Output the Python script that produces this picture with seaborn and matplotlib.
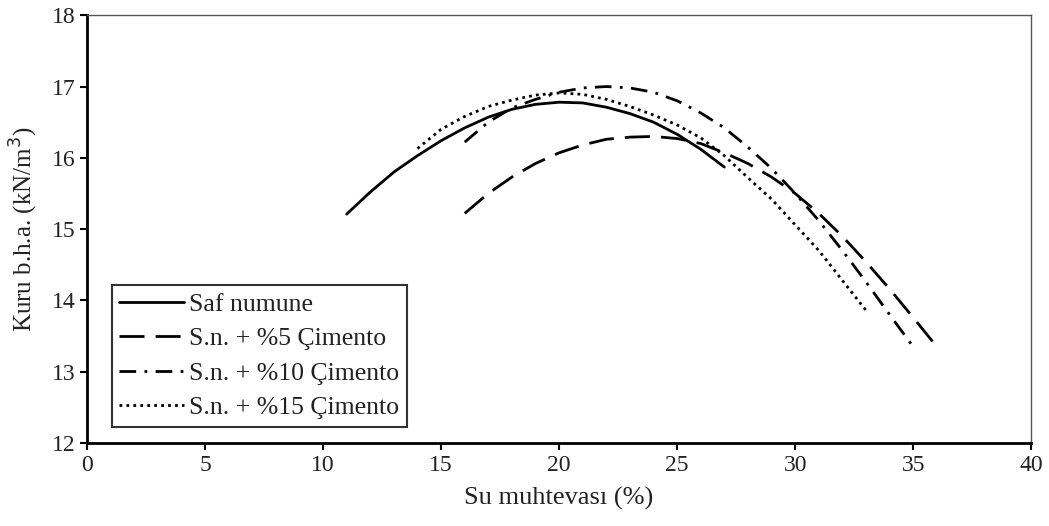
import seaborn as sns
import matplotlib.pyplot as plt
import pandas as pd

# values
saf_x = [11, 12, 13, 14, 15, 16, 17, 18, 19, 20, 21, 22, 23, 24, 25, 26, 27]
saf_y = [15.21, 15.52, 15.80, 16.03, 16.24, 16.42, 16.57, 16.68, 16.75, 16.78,
         16.77, 16.71, 16.62, 16.50, 16.33, 16.12, 15.87]

c5_x = [16, 17, 18, 19, 20, 21, 22, 23, 24, 25, 26, 27, 28, 29, 30, 31, 32, 33, 34, 35, 36]
c5_y = [15.22, 15.50, 15.73, 15.92, 16.07, 16.18, 16.26, 16.29, 16.30, 16.27, 16.20,
        16.07, 15.92, 15.73, 15.50, 15.22, 14.90, 14.54, 14.16, 13.76, 13.35]

c10_x = [16, 17, 18, 19, 20, 21, 22, 23, 24, 25, 26, 27, 28, 29, 30, 31, 32, 33, 34, 35]
c10_y = [16.22, 16.50, 16.70, 16.82, 16.92, 16.98, 17.00, 16.98, 16.92, 16.80, 16.63,
         16.42, 16.15, 15.85, 15.50, 15.12, 14.70, 14.26, 13.80, 13.35]

c15_x = [14, 15, 16, 17, 18, 19, 20, 21, 22, 23, 24, 25, 26, 27, 28, 29, 30, 31, 32, 33]
c15_y = [16.13, 16.40, 16.58, 16.72, 16.81, 16.88, 16.91, 16.89, 16.82, 16.72, 16.60,
         16.46, 16.28, 16.03, 15.72, 15.42, 15.06, 14.70, 14.28, 13.86]

labels = ['Saf numune', 'S.n. + %5 Çimento', 'S.n. + %10 Çimento', 'S.n. + %15 Çimento']

frames = []
for lab, xs, ys in zip(labels, [saf_x, c5_x, c10_x, c15_x], [saf_y, c5_y, c10_y, c15_y]):
    frames.append(pd.DataFrame({'w': xs, 'g': ys, 'seri': lab}))
df = pd.concat(frames, ignore_index=True)

sns.set_style('ticks')
plt.rcParams['font.family'] = ['Liberation Serif', 'DejaVu Serif']

fig = plt.figure(figsize=(10.49, 5.26), dpi=100)
ax = fig.add_axes([0.083, 0.158, 0.900, 0.813])

dash_styles = {
    labels[0]: '',
    labels[1]: (9, 4),
    labels[2]: (6, 3, 1, 3),
    labels[3]: (1, 1.5),
}
sns.lineplot(data=df, x='w', y='g', hue='seri', style='seri', dashes=dash_styles,
             palette=['black'] * 4, linewidth=2, ax=ax, sort=False, estimator=None)

ax.set_xlim(0, 40)
ax.set_ylim(12, 18)
ax.set_xticks(range(0, 41, 5))
ax.set_yticks(range(12, 19))
ax.tick_params(labelsize=17, width=1.5, length=5, color='black', colors='#222222')
ax.set_xlabel('Su muhtevası (%)', fontsize=19, color='#222222', labelpad=8)
ax.set_ylabel('Kuru b.h.a. (kN/m$^3$)', fontsize=18, color='#222222', labelpad=8)
for side in ['left', 'bottom']:
    ax.spines[side].set_linewidth(2)
    ax.spines[side].set_color('black')
for side in ['top', 'right']:
    ax.spines[side].set_visible(True)
    ax.spines[side].set_linewidth(1)
    ax.spines[side].set_color('#555555')

leg = ax.legend(loc='lower left', bbox_to_anchor=(0.026, 0.037), fontsize=18.5,
                frameon=True, fancybox=False, edgecolor='black', handlelength=2.5,
                handletextpad=0.2, borderpad=0.3, labelspacing=0.45,
                borderaxespad=0)
leg.get_frame().set_linewidth(1.5)
for t in leg.get_texts():
    t.set_color('#222222')

fig.savefig('out.png', dpi=100)
